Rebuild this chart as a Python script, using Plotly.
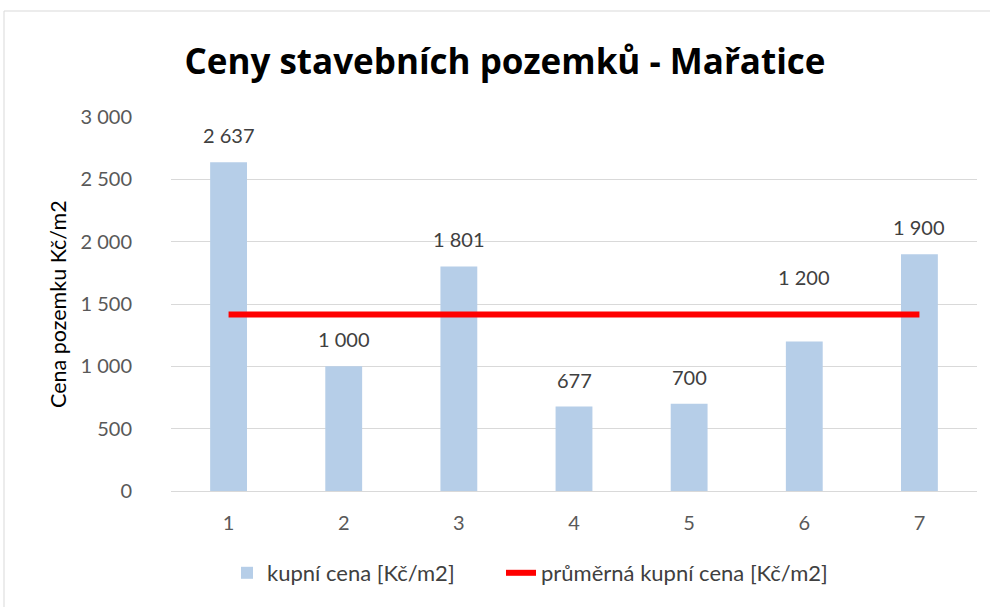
import plotly.graph_objects as go

categories = [1, 2, 3, 4, 5, 6, 7]
prices = [2637, 1000, 1801, 677, 700, 1200, 1900]
average_price = [sum(prices) / len(prices)] * len(prices)
label_shift = [27, 27, 27, 27, 27, 64, 27]
y_ticks = [0, 500, 1000, 1500, 2000, 2500, 3000]

W, H = 990, 607
L, R, T, B = 171, 13, 117, 116
pw = W - L - R
ph = H - T - B

def fmt(v):
    return f"{v:,}".replace(",", " ")

fig = go.Figure()
fig.add_trace(go.Bar(
    x=categories, y=prices, name="kupní cena [Kč/m2]",
    marker=dict(color="#b6cee8", line=dict(width=0)),
    width=0.32, legend="legend",
))
fig.add_trace(go.Scatter(
    x=categories, y=average_price, mode="lines",
    name="průměrná kupní cena [Kč/m2]",
    line=dict(color="#ff0000", width=6), legend="legend2",
))

for c, v, s in zip(categories, prices, label_shift):
    fig.add_annotation(x=c, y=v, text=fmt(v), showarrow=False,
                       yshift=s, font=dict(size=20, color="#404040"))

fig.add_annotation(xref="paper", yref="paper", x=(58 - L) / pw, y=0.5,
                   xanchor="center", yanchor="middle",
                   text="Cena pozemku Kč/m2", textangle=-90, showarrow=False,
                   font=dict(size=21.5, color="#000000"))

fig.add_shape(type="rect", xref="paper", yref="paper",
              x0=(4 - L) / pw, x1=(1100 - L) / pw,
              y0=-(700 - T - ph) / ph, y1=(H - B - 11) / ph,
              line=dict(color="#d9d9d9", width=1), layer="below")

legend_font = dict(size=22, color="#404040")
fig.update_layout(
    width=W, height=H,
    margin=dict(l=L, r=R, t=T, b=B, autoexpand=False),
    paper_bgcolor="white", plot_bgcolor="white",
    font=dict(family="Lato, Open Sans, sans-serif", color="#595959"),
    title=dict(text="<b>Ceny stavebních pozemků - Mařatice</b>", x=505 / W, xref="container",
               xanchor="center", y=1 - 62 / H, yanchor="middle",
               font=dict(size=35, color="#000000", family="Open Sans, sans-serif")),
    showlegend=True,
    legend=dict(orientation="h", x=(227 - L) / pw, xanchor="left",
                y=(H - B - 573) / ph, yanchor="middle", font=legend_font,
                bgcolor="rgba(0,0,0,0)"),
    legend2=dict(orientation="h", x=(501 - L) / pw, xanchor="left",
                 y=(H - B - 573) / ph, yanchor="middle", font=legend_font,
                 bgcolor="rgba(0,0,0,0)"),
)
fig.update_xaxes(range=[0.5, 7.5], tickvals=categories, ticktext=[str(c) for c in categories],
                 showgrid=False, showline=False, zeroline=False, ticks="", automargin=False,
                 ticklabelstandoff=18, tickfont=dict(size=20, color="#595959"))
fig.update_yaxes(range=[0, 3000], tickvals=y_ticks, ticktext=[fmt(t) for t in y_ticks],
                 showgrid=True, gridcolor="#d9d9d9", gridwidth=1.3, zeroline=True,
                 zerolinecolor="#d9d9d9", zerolinewidth=1.3, automargin=False,
                 ticklabelstandoff=38, tickfont=dict(size=20, color="#595959"))

fig.write_html("out.html", config={"displayModeBar": False},
               post_script="document.body.style.margin='0';document.body.style.overflow='hidden';")
